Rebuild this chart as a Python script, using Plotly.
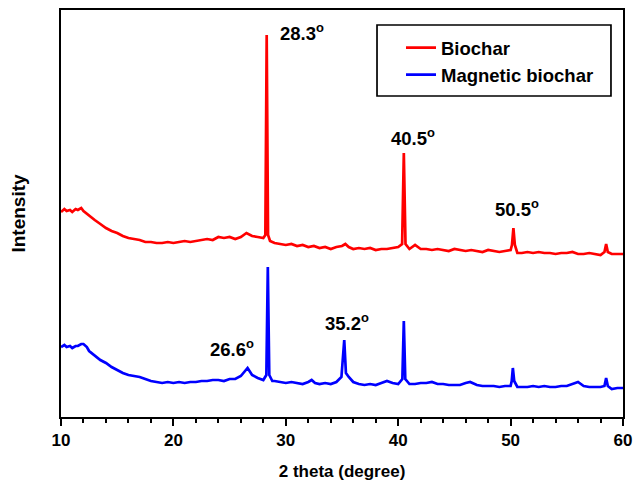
import plotly.graph_objects as go

# Biochar (red) XRD pattern
bio_x = [10.0, 10.3, 10.5, 10.8, 11.0, 11.3, 11.5, 11.8, 12.0, 12.5, 13.0, 13.5, 14.0, 14.5, 15.0, 15.5, 16.0, 16.5, 17.0, 17.5,
         18.0, 18.5, 19.0, 19.5, 20.0, 20.5, 21.0, 21.5, 22.0, 22.5, 23.0, 23.5, 24.0, 24.5, 25.0, 25.5,
         26.0, 26.5, 27.0, 27.5, 28.0, 28.18, 28.3, 28.42, 28.6, 29.0, 29.5, 30.0, 30.5, 31.0, 31.5, 32.0,
         32.5, 33.0, 33.5, 34.0, 34.5, 35.0, 35.3, 35.6, 36.0, 36.5, 37.0, 37.5, 38.0, 38.5, 39.0, 39.5,
         40.0, 40.35, 40.5, 40.65, 41.0, 41.5, 42.0, 42.5, 43.0, 43.5, 44.0, 44.5, 45.0, 45.5, 46.0, 46.5,
         47.0, 47.5, 48.0, 48.5, 49.0, 49.5, 50.0, 50.12, 50.25, 50.38, 50.6, 51.0, 51.5, 52.0, 52.5, 53.0,
         53.5, 54.0, 54.5, 55.0, 55.5, 56.0, 56.5, 57.0, 57.5, 58.0, 58.35, 58.5, 58.65, 59.0, 59.5, 60.0]
bio_y = [205, 208, 206, 207, 205, 208, 207, 209, 206, 201, 197, 193, 189, 186, 184, 181, 179, 178, 177, 175,
         175, 174, 174, 175, 174, 175, 176, 175, 176, 177, 178, 177, 180, 179, 180, 178,
         180, 184, 181, 180, 179, 182, 382, 182, 176, 174, 173, 172, 173, 171, 172, 170,
         171, 169, 170, 168, 170, 171, 173, 170, 168, 169, 168, 169, 167, 168, 168, 169,
         170, 173, 264, 173, 168, 172, 168, 168, 167, 168, 167, 166, 168, 167, 166, 167,
         166, 165, 167, 166, 165, 166, 167, 172, 189, 172, 164, 164, 165, 164, 165, 164,
         164, 163, 164, 164, 165, 163, 163, 164, 163, 162, 165, 173, 165, 163, 163, 163]

# Magnetic biochar (blue) XRD pattern
mag_x = [10.0, 10.3, 10.5, 10.8, 11.0, 11.3, 11.5, 11.8, 12.0, 12.3, 12.5, 13.0, 13.5, 14.0, 14.5, 15.0, 15.5, 16.0, 16.5, 17.0,
         17.5, 18.0, 18.5, 19.0, 19.5, 20.0, 20.5, 21.0, 21.5, 22.0, 22.5, 23.0, 23.5, 24.0, 24.5, 25.0,
         25.5, 26.0, 26.6, 27.0, 27.5, 28.0, 28.27, 28.4, 28.53, 28.8, 29.0, 29.5, 30.0, 30.5, 31.0, 31.5,
         32.0, 32.3, 32.6, 33.0, 33.5, 34.0, 34.5, 34.95, 35.2, 35.35, 35.6, 36.0, 36.5, 37.0, 37.5, 38.0,
         38.5, 39.0, 39.5, 40.0, 40.37, 40.5, 40.63, 41.0, 41.5, 42.0, 42.5, 43.0, 43.5, 44.0, 44.5, 45.0,
         45.5, 46.0, 46.4, 47.0, 47.5, 48.0, 48.5, 49.0, 49.5, 50.0, 50.1, 50.2, 50.32, 50.6, 51.0, 51.5,
         52.0, 52.5, 53.0, 53.5, 54.0, 54.5, 55.0, 55.5, 56.0, 56.5, 57.0, 57.5, 58.0, 58.35, 58.5, 58.65,
         59.0, 59.5, 60.0]
mag_y = [70, 72, 70, 71, 69, 71, 71, 73, 73, 70, 66, 61, 57, 54, 50, 47, 44, 42, 41, 40,
         38, 36, 35, 34, 35, 34, 35, 34, 35, 35, 36, 36, 37, 37, 36, 38,
         38, 41, 49, 42, 39, 37, 42, 150, 42, 36, 36, 35, 34, 35, 34, 33,
         35, 37, 34, 33, 34, 33, 35, 40, 77, 44, 40, 35, 33, 32, 33, 32,
         34, 36, 34, 33, 38, 96, 38, 33, 33, 34, 34, 35, 33, 33, 32, 32,
         32, 34, 35, 32, 31, 31, 31, 30, 31, 31, 36, 49, 36, 30, 30, 30,
         31, 30, 31, 30, 30, 31, 31, 33, 35, 31, 30, 30, 30, 31, 39, 31,
         28, 29, 29]

# Peak labels
peak_labels = ["28.3", "40.5", "50.5", "26.6", "35.2"]
label_x = [29.3, 39.2, 48.4, 23.1, 33.3]
label_y = [385, 280, 209, 69, 95]

x_ticks = [10, 20, 30, 40, 50, 60]

FONT = "Liberation Sans, Arial, sans-serif"

fig = go.Figure()
fig.add_trace(go.Scatter(x=bio_x, y=bio_y, mode="lines", name="<b>Biochar</b>",
                         line=dict(color="#ff0000", width=2.7)))
fig.add_trace(go.Scatter(x=mag_x, y=mag_y, mode="lines", name="<b>Magnetic biochar</b>",
                         line=dict(color="#0000ff", width=2.7)))

for t, xx, yy in zip(peak_labels, label_x, label_y):
    fig.add_annotation(x=xx, y=yy, text="<b>" + t + "<sup>o</sup></b>", showarrow=False,
                       xanchor="left", yanchor="middle",
                       font=dict(family=FONT, size=18.5, color="black"))

# legend frame
fig.add_shape(type="rect", xref="paper", yref="paper",
              x0=0.5623, x1=0.9786, y0=0.7887, y1=0.9631,
              line=dict(color="black", width=1.7), fillcolor="rgba(0,0,0,0)")

fig.update_layout(
    width=635, height=490,
    margin=dict(l=61, r=12, t=10, b=73),
    paper_bgcolor="white", plot_bgcolor="white",
    font=dict(family=FONT, size=17, color="black"),
    showlegend=True,
    legend=dict(x=(401 - 61) / 562, y=0.953, xanchor="left", yanchor="top",
                borderwidth=0, bgcolor="rgba(0,0,0,0)",
                font=dict(family=FONT, size=18.5, color="black"),
                tracegroupgap=0),
)
fig.update_xaxes(range=[10, 60], tickvals=x_ticks, ticktext=["<b>%d</b>" % v for v in x_ticks],
                 ticks="outside", ticklen=7, tickwidth=1.5, tickcolor="black",
                 minor=dict(dtick=2, ticks="outside", ticklen=4, tickwidth=1.5, tickcolor="black"),
                 showline=True, linecolor="black", linewidth=2, mirror=True,
                 showgrid=False, zeroline=False, automargin=False,
                 tickfont=dict(family=FONT, size=17),
                 title=dict(text="<b>2 theta (degree)</b>", standoff=16,
                            font=dict(family=FONT, size=17)))
fig.update_yaxes(range=[0, 407], showticklabels=False, ticks="",
                 showline=True, linecolor="black", linewidth=2, mirror=True,
                 showgrid=False, zeroline=False, automargin=False,
                 title=dict(text="<b>Intensity</b>", standoff=28,
                            font=dict(family=FONT, size=19)))

fig.write_html("out.html")
